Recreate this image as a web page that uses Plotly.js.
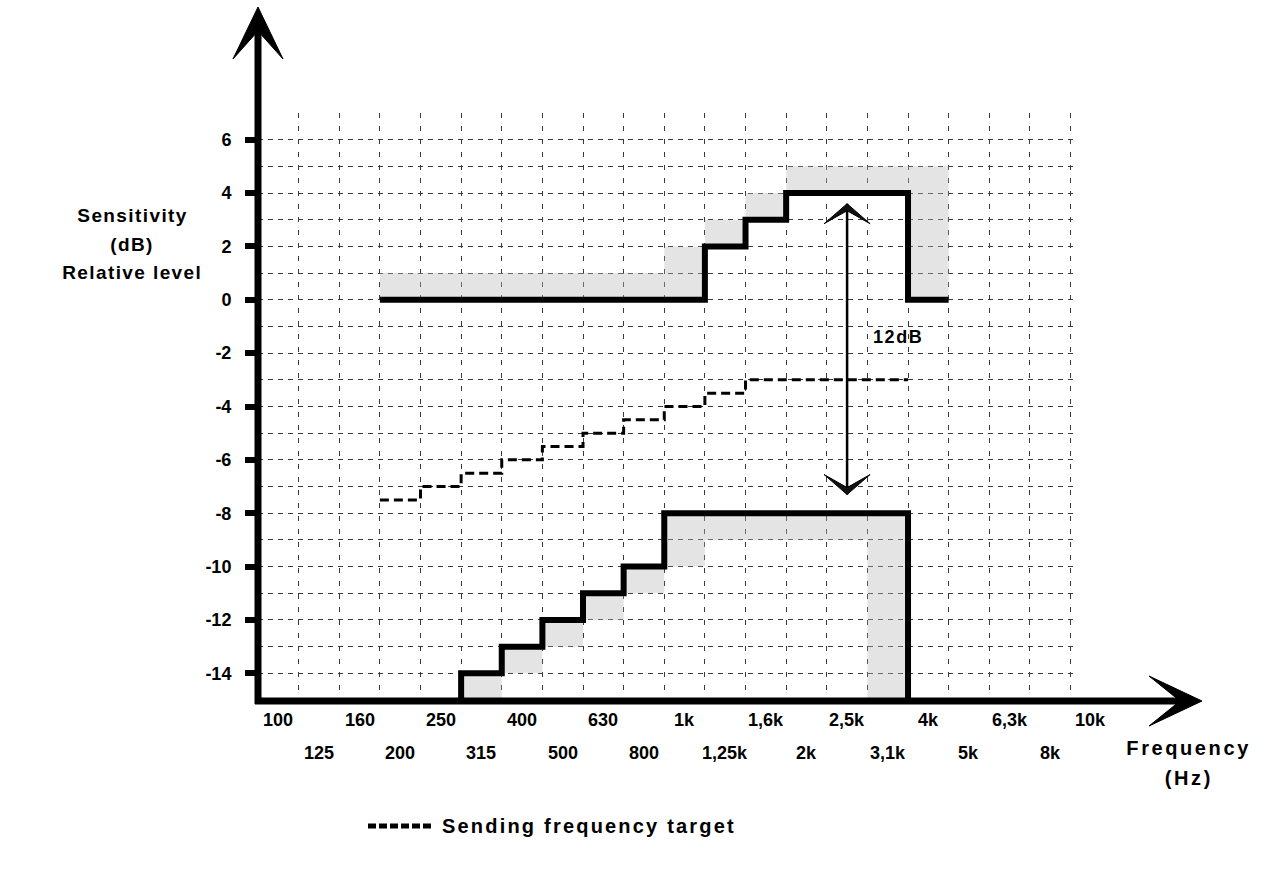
<!DOCTYPE html>
<html><head><meta charset="utf-8">
<script src="https://cdn.plot.ly/plotly-3.0.1.min.js"></script>
<style>
html,body{margin:0;padding:0;background:#fff;}
#chart{width:1271px;height:871px;}
path.js-line{stroke-linejoin:miter !important;}
g.annotation[data-index="21"] text, g.annotation[data-index="22"] text, g.annotation[data-index="23"] text{letter-spacing:1.4px;}
g.annotation[data-index="24"] text, g.annotation[data-index="25"] text{letter-spacing:2.6px;}
g.annotation[data-index="26"] text{letter-spacing:1.6px;}
g.annotation[data-index="27"] text{letter-spacing:2.2px;}
</style>
</head><body><div id="chart"></div>
<script>
// ---- data ----
const freqLabels = ['100','125','160','200','250','315','400','500','630','800','1k','1,25k','1,6k','2k','2,5k','3,1k','4k','5k','6,3k','8k','10k'];
// upper mask (band index start = 3 -> "200")
const upperStart = 3;
const upperMask = [0,0,0,0,0,0,0,0,2,3,4,4,4,0];
const upperTol  = [1,1,1,1,1,1,1,2,3,4,5,5,5,5];
// lower mask (band index start = 5 -> "315")
const lowerStart = 5;
const lowerMask = [-14,-13,-12,-11,-10,-8,-8,-8,-8,-8,-8];
const lowerTol  = [-15,-14,-13,-12,-11,-10,-9,-9,-9,-9,-15];
// sending frequency target (band index start = 3)
const targetStart = 3;
const sendingTarget = [-7.5,-7,-6.5,-6,-5.5,-5,-4.5,-4,-3.5,-3,-3,-3,-3];
const yTickVals = [6,4,2,0,-2,-4,-6,-8,-10,-12,-14];
const yMin = -15, yMax = 7;
const xMax = 20.11;
const arrowBand = 14;            // "2,5k"
const arrowTop = 3.6, arrowBottom = -7.3;
const arrowLabel = '12dB', arrowLabelY = -1.4;
const legendName = 'Sending frequency target';
const yTitleLines = ['Sensitivity','(dB)','Relative level'];
const xTitleLines = ['Frequency','(Hz)'];

// ---- helpers ----
function stepPts(start, vals){
  const xs=[], ys=[];
  vals.forEach((v,k)=>{ xs.push(start+k, start+k+1); ys.push(v, v); });
  return {xs, ys};
}
function band(start, top, bottom){
  const t = stepPts(start, top), b = stepPts(start, bottom);
  return {x: t.xs.concat(b.xs.slice().reverse()), y: t.ys.concat(b.ys.slice().reverse())};
}
const FONT = 'Liberation Sans, Arial, sans-serif';
const fnt = (s)=>({family: FONT, size: s, color: '#000', weight: 700});
const gray = 'rgba(185,185,185,0.38)';

const upBand = band(upperStart, upperTol, upperMask);
const loBand = band(lowerStart, lowerMask, lowerTol);
const upLine = stepPts(upperStart, upperMask);
const loLine = stepPts(lowerStart, lowerMask);
const tgLine = stepPts(targetStart, sendingTarget);

const traces = [
  {x: upBand.x, y: upBand.y, type:'scatter', mode:'lines', fill:'toself', fillcolor: gray, line:{width:0}, hoverinfo:'skip', showlegend:false},
  {x: loBand.x, y: loBand.y, type:'scatter', mode:'lines', fill:'toself', fillcolor: gray, line:{width:0}, hoverinfo:'skip', showlegend:false},
  {x: tgLine.xs, y: tgLine.ys, type:'scatter', mode:'lines', name: legendName, line:{color:'#000', width:3, dash:'9px,5px'}, showlegend:false},
  {x: upLine.xs, y: upLine.ys, type:'scatter', mode:'lines', line:{color:'#000', width:6}, showlegend:false},
  {x: [lowerStart].concat(loLine.xs, [lowerStart+lowerMask.length]), y: [yMin].concat(loLine.ys, [yMin]), type:'scatter', mode:'lines', line:{color:'#000', width:6}, showlegend:false}
];

const annotations = [];
freqLabels.forEach((t,i)=>{
  annotations.push({xref:'paper', yref:'paper', x:(i+0.5)/xMax, y:0, xanchor:'center', yanchor:'middle',
    yshift: (i%2===0) ? -20 : -53, text:t, showarrow:false, font: fnt(18)});
});
yTitleLines.forEach((t,k)=>{
  annotations.push({xref:'paper', yref:'paper', x:0, y:1, xshift:-126, yshift:[-102,-131,-159][k], xanchor:'center', yanchor:'middle', text:t, showarrow:false, font: fnt(19)});
});
xTitleLines.forEach((t,k)=>{
  annotations.push({xref:'paper', yref:'paper', x:0, y:0, xshift:931, yshift:[-48,-78][k], xanchor:'center', yanchor:'middle', text:t, showarrow:false, font: fnt(20)});
});
annotations.push({xref:'x', yref:'y', x: arrowBand+1.1, y: arrowLabelY, xanchor:'left', yanchor:'middle', align:'left', text: arrowLabel, showarrow:false, font: fnt(18)});
annotations.push({xref:'paper', yref:'paper', x:0, y:0, xshift:182, yshift:-126, xanchor:'left', yanchor:'middle', align:'left', text: legendName, showarrow:false, font: fnt(20)});

const ax = arrowBand + 0.5;
const shapes = [
  // y axis line + arrowhead
  {type:'line', xref:'paper', yref:'paper', xsizemode:'pixel', ysizemode:'pixel', xanchor:0, yanchor:1, x0:0, x1:0, y0:-591, y1:86, line:{color:'#000', width:7}},
  {type:'path', xref:'paper', yref:'paper', xsizemode:'pixel', ysizemode:'pixel', xanchor:0, yanchor:1, path:'M0,106 L-25,54 L0,82 L25,54 Z', fillcolor:'#000', line:{color:'#000', width:1}},
  // x axis line + arrowhead
  {type:'line', xref:'paper', yref:'paper', xsizemode:'pixel', ysizemode:'pixel', xanchor:0, yanchor:0, x0:-3, x1:926, y0:-1, y1:-1, line:{color:'#000', width:7}},
  {type:'path', xref:'paper', yref:'paper', xsizemode:'pixel', ysizemode:'pixel', xanchor:0, yanchor:0, path:'M944,-1 L891,24 L922,-1 L891,-26 Z', fillcolor:'#000', line:{color:'#000', width:1}},
  // 12 dB double arrow
  {type:'line', xref:'x', yref:'y', x0:ax, x1:ax, y0:arrowBottom, y1:arrowTop, line:{color:'#000', width:2.5}},
  {type:'path', xref:'x', yref:'y', xsizemode:'pixel', ysizemode:'pixel', xanchor:ax, yanchor:arrowTop, path:'M0,0 L-23,-20 L0,-7 L23,-20 Z', fillcolor:'#111', line:{color:'#000', width:1}},
  {type:'path', xref:'x', yref:'y', xsizemode:'pixel', ysizemode:'pixel', xanchor:ax, yanchor:arrowBottom, path:'M0,0 L-23,20 L0,7 L23,20 Z', fillcolor:'#111', line:{color:'#000', width:1}},
  // legend sample
  {type:'line', xref:'paper', yref:'paper', xsizemode:'pixel', ysizemode:'pixel', xanchor:0, yanchor:0, x0:110, x1:173, y0:-126, y1:-126, line:{color:'#000', width:5, dash:'8px,3px'}}
];

const layout = {
  width:1271, height:871,
  margin:{l:258, r:196, t:113, b:171},
  paper_bgcolor:'#fff', plot_bgcolor:'#fff',
  showlegend:false,
  xaxis:{range:[0,xMax], tickmode:'linear', tick0:0, dtick:1, showticklabels:false, ticks:'', showgrid:true,
    gridcolor:'#3a3a3a', gridwidth:1, griddash:'5px,8px', zeroline:false, showline:false, fixedrange:true},
  yaxis:{range:[yMin,yMax], tickmode:'array', tickvals:yTickVals, ticktext:yTickVals.map(String),
    ticks:'outside', ticklen:12, tickwidth:6, tickcolor:'#000', tickfont: fnt(18), ticklabelstandoff:10,
    showgrid:true, gridcolor:'#3a3a3a', gridwidth:1, griddash:'5px,5px',
    minor:{tickmode:'linear', tick0:yMin, dtick:1, showgrid:true, gridcolor:'#3a3a3a', gridwidth:1, griddash:'5px,5px', ticks:''},
    zeroline:false, showline:false, fixedrange:true},
  annotations, shapes
};
Plotly.newPlot('chart', traces, layout, {staticPlot:true, displayModeBar:false});
</script>
</body></html>
